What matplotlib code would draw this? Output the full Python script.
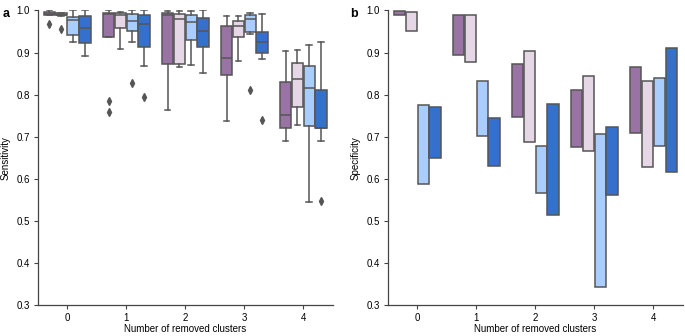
import numpy as np
import matplotlib
matplotlib.use("Agg")
import matplotlib.pyplot as plt

# ----------------------------------------------------------------------------
# Data
# ----------------------------------------------------------------------------
clusters = [0, 1, 2, 3, 4]
methods = ["m1", "m2", "m3", "m4"]
colors = ["#9873a3", "#e6d7e6", "#a9cdfe", "#3470cc"]

# Sensitivity box stats per method, one entry per cluster count
# (whislo, q1, med, q3, whishi)
sens_stats = {
    "m1": [(0.988, 0.988, 0.992, 0.996, 1.000),
           (0.937, 0.937, 0.992, 0.994, 1.000),
           (0.763, 0.872, 0.988, 0.995, 0.998),
           (0.737, 0.847, 0.888, 0.964, 0.986),
           (0.689, 0.722, 0.752, 0.829, 0.904)],
    "m2": [(0.987, 0.988, 0.990, 0.994, 0.995),
           (0.908, 0.958, 0.989, 0.994, 0.997),
           (0.866, 0.873, 0.980, 0.992, 0.998),
           (0.881, 0.936, 0.964, 0.976, 0.986),
           (0.727, 0.771, 0.838, 0.875, 0.905)],
    "m3": [(0.925, 0.942, 0.978, 0.984, 1.000),
           (0.924, 0.952, 0.975, 0.992, 1.000),
           (0.871, 0.930, 0.972, 0.988, 0.998),
           (0.944, 0.948, 0.979, 0.989, 0.994),
           (0.546, 0.726, 0.816, 0.869, 0.918)],
    "m4": [(0.892, 0.922, 0.959, 0.987, 1.000),
           (0.867, 0.913, 0.968, 0.989, 1.000),
           (0.851, 0.914, 0.950, 0.983, 1.000),
           (0.885, 0.900, 0.924, 0.948, 0.992),
           (0.689, 0.722, 0.722, 0.811, 0.925)],
}
sens_fliers = {
    "m1": [[0.967], [0.786, 0.760], [], [], []],
    "m2": [[0.957], [], [], [], []],
    "m3": [[], [0.827], [], [0.811], []],
    "m4": [[], [0.795], [], [0.740], [0.548]],
}

# Specificity ranges (low, high) per method and cluster count
spec_low = {
    "m1": [0.989, 0.895, 0.747, 0.675, 0.710],
    "m2": [0.952, 0.877, 0.687, 0.667, 0.628],
    "m3": [0.587, 0.702, 0.567, 0.343, 0.679],
    "m4": [0.649, 0.631, 0.514, 0.563, 0.617],
}
spec_high = {
    "m1": [0.999, 0.990, 0.874, 0.810, 0.866],
    "m2": [0.997, 0.990, 0.904, 0.844, 0.833],
    "m3": [0.776, 0.833, 0.678, 0.706, 0.840],
    "m4": [0.770, 0.745, 0.778, 0.723, 0.910],
}

# ----------------------------------------------------------------------------
# Plot
# ----------------------------------------------------------------------------
plt.rcParams["font.family"] = ["Liberation Sans", "DejaVu Sans"]
plt.rcParams["font.size"] = 7

edge = "#555555"
lw = 1.1
offsets = [-0.3, -0.1, 0.1, 0.3]
box_w = 0.19

fig = plt.figure(figsize=(6.85, 3.36), dpi=100)
ax_a = fig.add_axes([0.055, 0.091, 0.431, 0.878])
ax_b = fig.add_axes([0.566, 0.091, 0.431, 0.878])

x = np.array(clusters, dtype=float)

for i, m in enumerate(methods):
    stats = []
    for j, (lo, q1, med, q3, hi) in enumerate(sens_stats[m]):
        stats.append(dict(whislo=lo, q1=q1, med=med, q3=q3, whishi=hi,
                          fliers=sens_fliers[m][j]))
    ax_a.bxp(stats, positions=x + offsets[i], widths=box_w, patch_artist=True,
             boxprops=dict(facecolor=colors[i], edgecolor=edge, linewidth=lw),
             medianprops=dict(color=edge, linewidth=lw),
             whiskerprops=dict(color=edge, linewidth=lw),
             capprops=dict(color=edge, linewidth=lw),
             flierprops=dict(marker="d", markerfacecolor=edge,
                             markeredgecolor=edge, markersize=4))

for i, m in enumerate(methods):
    low = np.array(spec_low[m])
    high = np.array(spec_high[m])
    ax_b.bar(x + offsets[i], high - low, bottom=low, width=box_w,
             color=colors[i], edgecolor=edge, linewidth=lw)

for ax, lab in [(ax_a, "Sensitivity"), (ax_b, "Specificity")]:
    ax.set_xlim(-0.5, 4.5)
    ax.set_ylim(0.3, 1.0)
    ax.set_yticks(np.arange(0.3, 1.01, 0.1))
    ax.set_yticklabels([f"{v:.1f}" for v in np.arange(0.3, 1.01, 0.1)])
    ax.set_xticks(clusters)
    ax.set_xticklabels([str(c) for c in clusters])
    ax.set_ylabel(lab, fontsize=7, labelpad=4)
    ax.set_xlabel("Number of removed clusters", fontsize=7, labelpad=1)
    ax.spines["top"].set_visible(False)
    ax.spines["right"].set_visible(False)
    for s in ("left", "bottom"):
        ax.spines[s].set_color("#444444")
        ax.spines[s].set_linewidth(0.9)
    ax.tick_params(length=3, width=0.8, color="#444444", labelsize=7, pad=2.5)

fig.text(0.004, 0.975, "a", fontsize=9, fontweight="bold", va="top")
fig.text(0.511, 0.975, "b", fontsize=9, fontweight="bold", va="top")

fig.savefig("out.png", dpi=100)
